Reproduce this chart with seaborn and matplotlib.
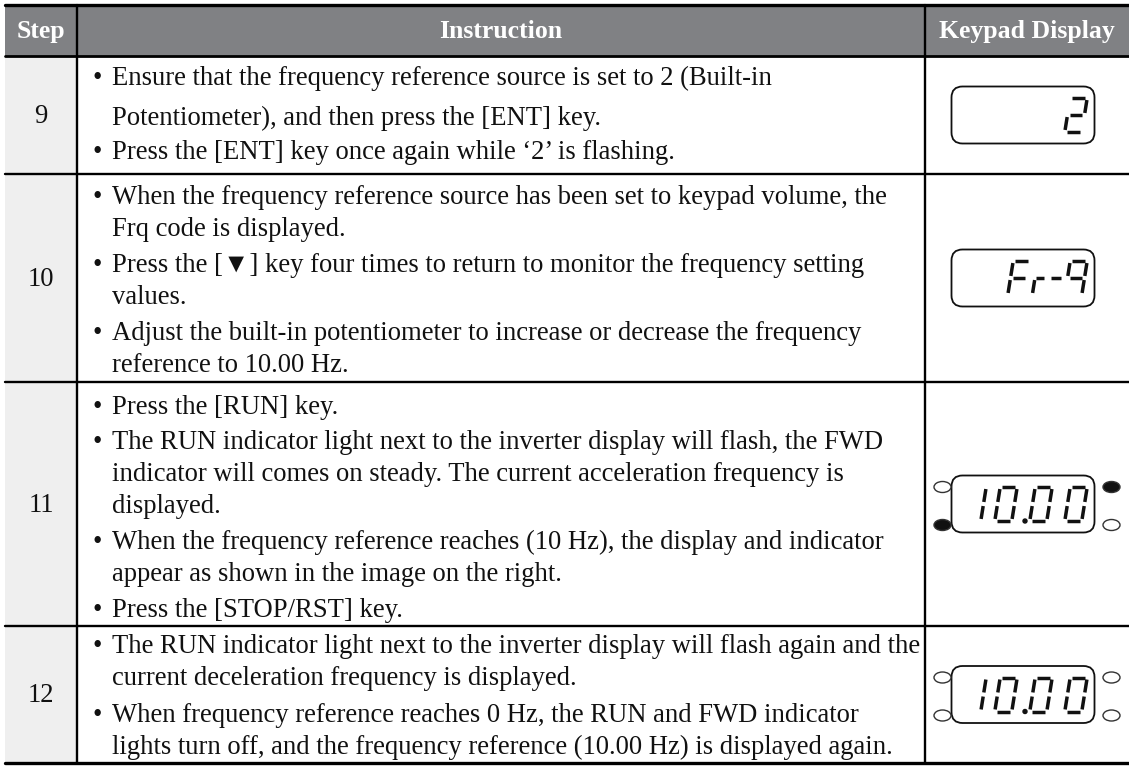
import numpy as np
import pandas as pd
import seaborn as sns
import matplotlib.pyplot as plt
from matplotlib.patches import Rectangle, FancyBboxPatch, Ellipse

sns.set_theme(style='white')
plt.rcParams['font.family'] = ['Liberation Serif', 'DejaVu Serif']

# table content
headers = ['Step', 'Instruction', 'Keypad Display']
steps = ['9', '10', '11', '12']

row9 = [['Ensure that the frequency reference source is set to 2 (Built-in',
         'Potentiometer), and then press the [ENT] key.'],
        ['Press the [ENT] key once again while \u20182\u2019 is flashing.']]
row10 = [['When the frequency reference source has been set to keypad volume, the',
          'Frq code is displayed.'],
         ['Press the [\u25bc] key four times to return to monitor the frequency setting',
          'values.'],
         ['Adjust the built-in potentiometer to increase or decrease the frequency',
          'reference to 10.00 Hz.']]
row11 = [['Press the [RUN] key.'],
         ['The RUN indicator light next to the inverter display will flash, the FWD',
          'indicator will comes on steady. The current acceleration frequency is',
          'displayed.'],
         ['When the frequency reference reaches (10 Hz), the display and indicator',
          'appear as shown in the image on the right.'],
         ['Press the [STOP/RST] key.']]
row12 = [['The RUN indicator light next to the inverter display will flash again and the',
          'current deceleration frequency is displayed.'],
         ['When frequency reference reaches 0 Hz, the RUN and FWD indicator',
          'lights turn off, and the frequency reference (10.00 Hz) is displayed again.']]
instructions = [row9, row10, row11, row12]

# keypad display contents and LED states
display_chars = [['2'], ['F', 'r', '-', 'q'], ['1', '0', '0', '0'], ['1', '0', '0', '0']]
display_dot = [False, False, True, True]
# LEDs: left-top, left-bottom, right-top, right-bottom (True = lit)
leds = [None, None, [False, True, True, False], [False, False, False, False]]

# layout in pixels
W, H = 1129, 767
x_left, x_step, x_key, x_right = 5, 77, 925, 1129
y_top, y_head = 5, 56
row_bounds = [56, 174, 382, 626, 763]
line_y = [[[79, 119], [153]],
          [[198, 230], [266, 298], [334, 366]],
          [[408], [443, 475, 507], [543, 575], [611]],
          [[647, 679], [716, 748]]]
char_x = [[1076], [1019, 1040, 1056, 1076], [975, 1006, 1041, 1076], [975, 1006, 1041, 1076]]
head_color = '#808184'
step_bg = '#efefef'
fs = 19.2

fig = plt.figure(figsize=(W / 100, H / 100), dpi=100)
ax = fig.add_axes([0, 0, 1, 1])
ax.set_xlim(0, W)
ax.set_ylim(H, 0)
ax.axis('off')

# backgrounds
ax.add_patch(Rectangle((x_left, y_top), x_right - x_left, y_head - y_top,
                       color=head_color, lw=0))
ax.add_patch(Rectangle((x_left, y_head), x_step - x_left, row_bounds[-1] - y_head,
                       color=step_bg, lw=0))

# grid lines
ax.plot([x_left, x_right], [y_top, y_top], color='black', lw=2.4)
ax.plot([x_left, x_right], [y_head, y_head], color='black', lw=2.0)
for yb in row_bounds[1:-1]:
    ax.plot([x_left, x_right], [yb, yb], color='black', lw=1.7)
ax.plot([x_left, x_right], [row_bounds[-1], row_bounds[-1]], color='black', lw=2.4)
for xv in [x_step, x_key]:
    ax.plot([xv, xv], [y_top, row_bounds[-1]], color='black', lw=1.7)

# header text
head_x = [(x_left + x_step) / 2, (x_step + x_key) / 2, (x_key + x_right) / 2]
for hx, txt in zip(head_x, headers):
    ax.text(hx, 38, txt, ha='center', va='baseline', fontsize=18.5, fontweight='bold',
            color='white')

# step numbers and instructions
for i, step in enumerate(steps):
    yc = (row_bounds[i] + row_bounds[i + 1]) / 2
    ax.text((x_left + x_step) / 2, yc + 8, step, ha='center', va='baseline',
            fontsize=fs, color='#111111')
    for bullet, ys in zip(instructions[i], line_y[i]):
        ax.text(97, ys[0] + 6, '\u2022', ha='center', va='baseline', fontsize=fs,
                color='#111111')
        for line, yy in zip(bullet, ys):
            ax.text(112, yy + 6, line, ha='left', va='baseline', fontsize=fs,
                    color='#111111')

# seven segment keypad displays
SEG = {'a': ((0.12, 2), (0.88, 2)), 'b': ((1, 1.88), (1, 1.12)),
       'c': ((1, 0.88), (1, 0.12)), 'd': ((0.12, 0), (0.88, 0)),
       'e': ((0, 0.88), (0, 0.12)), 'f': ((0, 1.88), (0, 1.12)),
       'g': ((0.12, 1), (0.88, 1))}
CHARS = {'0': 'abcdef', '1': 'bc', '2': 'abged', 'F': 'afeg', 'q': 'abcfg'}
box_cx, box_w, box_h = 1023, 143, 57
dig_w, dig_h, skew = 17, 34, 0.16


def seg_xy(cx, cy, ux, uy, w=dig_w):
    px = cx + (ux - 0.5) * w + skew * (uy - 1) * dig_h / 2
    py = cy - (uy - 1) * dig_h / 2
    return px, py


def draw_seg(cx, cy, s, w=dig_w):
    (x0, y0), (x1, y1) = SEG[s]
    p0 = seg_xy(cx, cy, x0, y0, w)
    p1 = seg_xy(cx, cy, x1, y1, w)
    ax.plot([p0[0], p1[0]], [p0[1], p1[1]], color='#111111', lw=2.5,
            solid_capstyle='butt')


for i in range(len(steps)):
    yc = (row_bounds[i] + row_bounds[i + 1]) / 2
    ax.add_patch(FancyBboxPatch((box_cx - box_w / 2, yc - box_h / 2), box_w, box_h,
                                boxstyle='round,pad=0,rounding_size=11',
                                fc='white', ec='#111111', lw=1.3))
    for ch, cx in zip(display_chars[i], char_x[i]):
        if ch == 'r':
            draw_seg(cx, yc, 'e', w=10)
            draw_seg(cx, yc, 'g', w=10)
        elif ch == '-':
            draw_seg(cx, yc, 'g', w=12)
        else:
            for s in CHARS[ch]:
                draw_seg(cx, yc, s)
    if display_dot[i]:
        ax.add_patch(Ellipse((1025, yc + dig_h / 2), 4, 4, color='#111111'))
    if leds[i] is not None:
        lx = [box_cx - box_w / 2 - 9, box_cx - box_w / 2 - 9,
              box_cx + box_w / 2 + 17, box_cx + box_w / 2 + 17]
        ly = [yc - 17, yc + 21, yc - 17, yc + 21]
        for on, xx, yy in zip(leds[i], lx, ly):
            ax.add_patch(Ellipse((xx, yy), 17, 11,
                                 fc='#111111' if on else 'white',
                                 ec='#333333', lw=1.0))

fig.savefig('out.png', dpi=100)
